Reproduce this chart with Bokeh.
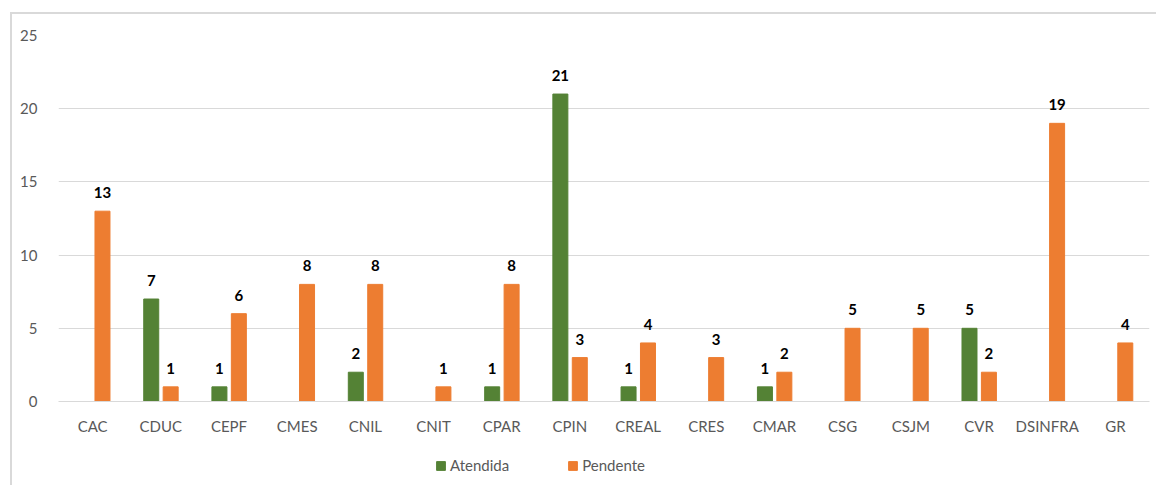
from bokeh.plotting import figure
from bokeh.layouts import column
from bokeh.models import ColumnDataSource, FactorRange, Range1d, LabelSet, Legend, LegendItem, FixedTicker
from bokeh.core.properties import value
from bokeh.transform import dodge
from bokeh.embed import file_html
from bokeh.resources import INLINE

categories = ["CAC", "CDUC", "CEPF", "CMES", "CNIL", "CNIT", "CPAR", "CPIN",
              "CREAL", "CRES", "CMAR", "CSG", "CSJM", "CVR", "DSINFRA", "GR"]
atendida = [0, 7, 1, 0, 2, 0, 1, 21, 1, 0, 1, 0, 0, 5, 0, 0]
pendente = [13, 1, 6, 8, 8, 1, 8, 3, 4, 3, 2, 5, 5, 2, 19, 4]
y_ticks = [0, 5, 10, 15, 20, 25]

GREEN = "#548235"
ORANGE = "#ED7D31"
FONT = "Lato"
BOLD_FONT = "Lato"

src = ColumnDataSource(dict(cat=categories, atendida=atendida, pendente=pendente))

p = figure(width=1144, height=427, output_backend="svg", toolbar_location=None,
           x_range=FactorRange(*categories, range_padding=0), y_range=Range1d(0, 25),
           min_border_left=46, min_border_right=7, min_border_top=21, min_border_bottom=40)
p.outline_line_color = None

p.vbar(x=dodge("cat", -0.14, range=p.x_range), top="atendida", width=0.22,
       source=src, color=GREEN)
p.vbar(x=dodge("cat", 0.145, range=p.x_range), top="pendente", width=0.22,
       source=src, color=ORANGE)

# value labels (non-zero only)
a_idx = [i for i, v in enumerate(atendida) if v != 0]
p_idx = [i for i, v in enumerate(pendente) if v != 0]
lab_a = ColumnDataSource(dict(cat=[categories[i] for i in a_idx],
                              v=[atendida[i] for i in a_idx],
                              t=[str(atendida[i]) for i in a_idx]))
lab_p = ColumnDataSource(dict(cat=[categories[i] for i in p_idx],
                              v=[pendente[i] for i in p_idx],
                              t=[str(pendente[i]) for i in p_idx]))
for s, off in ((lab_a, -0.14), (lab_p, 0.145)):
    p.add_layout(LabelSet(x=dodge("cat", off, range=p.x_range), y="v", text="t", source=s,
                          text_align="center", text_baseline="bottom", y_offset=13,
                          text_font=value(BOLD_FONT), text_font_style="bold",
                          text_font_size="15px", text_color="#000000"))

# axes
p.yaxis.ticker = FixedTicker(ticks=y_ticks)
p.yaxis.axis_line_color = None
p.yaxis.major_tick_line_color = None
p.yaxis.minor_tick_line_color = None
p.yaxis.major_label_text_font = FONT
p.yaxis.major_label_text_font_size = "15px"
p.yaxis.major_label_text_color = "#595959"
p.yaxis.major_label_standoff = 15

p.xaxis.axis_line_color = "#d9d9d9"
p.xaxis.major_tick_line_color = None
p.xaxis.minor_tick_line_color = None
p.xaxis.major_label_text_font = FONT
p.xaxis.major_label_text_font_size = "15px"
p.xaxis.major_label_text_color = "#595959"
p.xaxis.major_label_standoff = 9

p.xgrid.grid_line_color = None
p.ygrid.grid_line_color = "#d9d9d9"
p.ygrid.ticker = FixedTicker(ticks=y_ticks)

# legend strip below the chart (dummy bars kept outside the visible range)
p2 = figure(width=1144, height=44, output_backend="svg", toolbar_location=None,
            x_range=Range1d(0, 1), y_range=Range1d(0, 1),
            x_axis_type=None, y_axis_type=None,
            min_border_left=0, min_border_right=0, min_border_top=0, min_border_bottom=0)
p2.outline_line_color = None
p2.xgrid.grid_line_color = None
p2.ygrid.grid_line_color = None
dummy = ColumnDataSource(dict(x=[-5], top=[-5]))
r1 = p2.vbar(x="x", top="top", bottom=-6, width=0.1, source=dummy, color=GREEN)
r2 = p2.vbar(x="x", top="top", bottom=-6, width=0.1, source=dummy, color=ORANGE)
legend = Legend(items=[LegendItem(label="Atendida", renderers=[r1]),
                       LegendItem(label="Pendente", renderers=[r2])],
                orientation="horizontal", location=(377, 11),
                border_line_color=None, background_fill_alpha=0,
                label_text_font=FONT, label_text_font_size="15px",
                label_text_color="#595959", glyph_width=11, glyph_height=11,
                spacing=58, padding=2, margin=0, label_standoff=4)
p2.add_layout(legend, "center")

layout = column(p, p2, spacing=0)
layout.styles = {"margin-left": "10px", "margin-top": "12px",
                 "border-left": "2px solid #d9d9d9", "border-top": "2px solid #d9d9d9"}

open("out.html", "w").write(file_html(layout, INLINE))
